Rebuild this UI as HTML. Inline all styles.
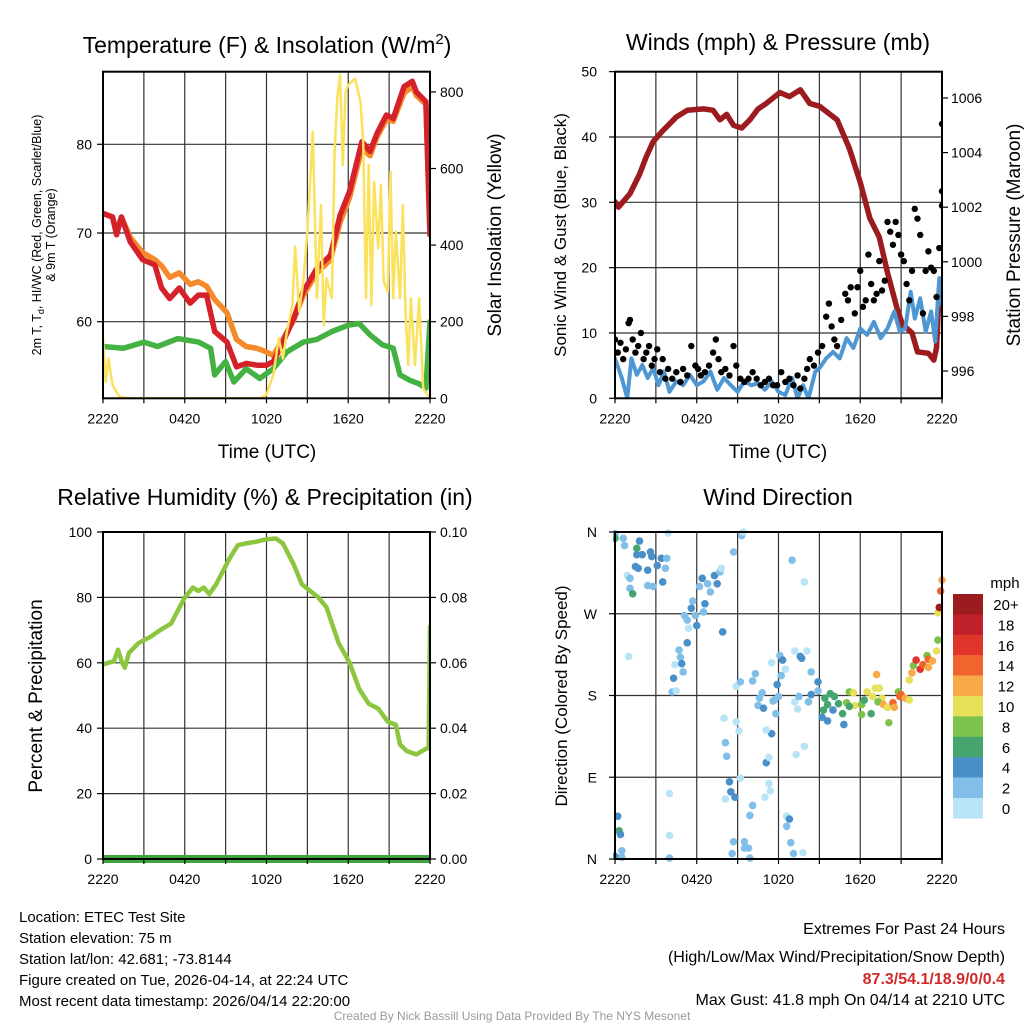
<!DOCTYPE html>
<html><head><meta charset="utf-8"><style>
html,body{margin:0;padding:0;background:#fff;}
svg{display:block;font-family:"Liberation Sans",sans-serif;}
</style></head><body>
<svg id="s" width="1024" height="1024" viewBox="0 0 1024 1024" xmlns="http://www.w3.org/2000/svg">
<defs>
<clipPath id="c1"><rect x="103" y="71.7" width="327" height="326.6"/></clipPath>
<clipPath id="c2"><rect x="615" y="71.7" width="327" height="326.6"/></clipPath>
<clipPath id="c3"><rect x="103" y="532" width="327" height="331"/></clipPath>
<clipPath id="c4"><rect x="613" y="528" width="333" height="335"/></clipPath>
</defs>
<g id="grid"></g>
<g id="marks"></g>
<g id="frames" fill="none" stroke="#000" stroke-width="2">
<rect x="103" y="71.7" width="327" height="326.6"/>
<rect x="615" y="71.7" width="327" height="326.6"/>
<rect x="103" y="532" width="327" height="327"/>
<rect x="615" y="532" width="327" height="327"/>
</g>
<g id="ticks" font-size="14" fill="#000"></g>
<g font-size="23" text-anchor="middle">
<text x="267" y="53">Temperature (F) &amp; Insolation (W/m<tspan dy="-9" font-size="15">2</tspan><tspan dy="9">)</tspan></text>
<text x="778" y="50">Winds (mph) &amp; Pressure (mb)</text>
<text x="265" y="505">Relative Humidity (%) &amp; Precipitation (in)</text>
<text x="778" y="505">Wind Direction</text>
</g>
<g font-size="19" text-anchor="middle">
<text x="267" y="458">Time (UTC)</text>
<text x="778" y="458">Time (UTC)</text>
<text transform="translate(501,235) rotate(-90)">Solar Insolation (Yellow)</text>
<text transform="translate(1020,235) rotate(-90)">Station Pressure (Maroon)</text>
<text transform="translate(42,696) rotate(-90)">Percent &amp; Precipitation</text>
</g>
<g font-size="17" text-anchor="middle">
<text transform="translate(566,235) rotate(-90)">Sonic Wind &amp; Gust (Blue, Black)</text>
<text transform="translate(567,696) rotate(-90)">Direction (Colored By Speed)</text>
</g>
<g font-size="12.5" text-anchor="middle">
<text transform="translate(41,235) rotate(-90)">2m T, T<tspan dy="3" font-size="9">d</tspan><tspan dy="-3">, HI/WC (Red, Green, Scarlet/Blue)</tspan></text>
<text transform="translate(55,235) rotate(-90)">&amp; 9m T (Orange)</text>
</g>
<g id="cbar"></g>
<g font-size="15">
<text x="19" y="922">Location: ETEC Test Site</text>
<text x="19" y="943">Station elevation: 75 m</text>
<text x="19" y="964">Station lat/lon: 42.681; -73.8144</text>
<text x="19" y="985">Figure created on Tue, 2026-04-14, at 22:24 UTC</text>
<text x="19" y="1006">Most recent data timestamp: 2026/04/14 22:20:00</text>
</g>
<g font-size="16" text-anchor="end">
<text x="1005" y="934">Extremes For Past 24 Hours</text>
<text x="1005" y="962">(High/Low/Max Wind/Precipitation/Snow Depth)</text>
<text x="1005" y="984" fill="#d12a2a" font-weight="bold">87.3/54.1/18.9/0/0.4</text>
<text x="1005" y="1005">Max Gust: 41.8 mph On 04/14 at 2210 UTC</text>
</g>
<text x="512" y="1020" font-size="12" fill="#999" text-anchor="middle">Created By Nick Bassill Using Data Provided By The NYS Mesonet</text>
</svg>
<script>
const timeLabels=["2220","0420","1020","1620","2220"];
const tempT=[0,0.7,1,1.35,2,2.9,3.8,4.3,4.9,5.6,6.4,7,7.6,8.2,9.1,9.8,10.5,11.3,12,12.5,13.2,14,14.7,15.7,16.7,17.4,18.1,19,19.6,20.1,20.8,21.3,22.1,22.7,23,23.7,24];
const tempRed=[72.2,71.8,69.8,71.8,69,67,66.4,63.8,62.6,63.8,62.1,63,63,58.9,57.7,54.9,55.3,55.1,55.1,55.5,57.7,60.4,63.4,66,67.5,72,74.7,80.3,79.2,81.2,83.3,82.9,86.5,87.1,85.9,84.8,69.8];
const tempOrange=[72.2,71.8,70.2,71.8,69.5,67.8,67,66.3,65,65.5,64.2,64.5,64,62.5,61,58,57.2,57,56.6,56.2,58,60.2,63,65.5,67,71.2,74,79.5,78.7,80.8,82.8,82.6,85.8,86.5,85.5,84.5,69.8];
const dewT=[0,1.5,3,4,5.5,7,7.9,8.2,9,9.6,10.5,11.5,12.5,13.5,14.7,15.7,16.8,18,18.8,19.6,20.5,21.3,21.8,22.5,23.2,23.7,24];
const dew=[57.2,57,57.7,57.2,58.1,57.7,57,54,55.5,53.2,54.7,53.6,54.7,56.6,57.7,58,58.9,59.6,59.8,58.5,57.4,57,54,53.4,53,52.5,60];
const solarT=[0,0.2,0.4,0.7,1.2,2,11.5,12,12.5,12.9,13.2,13.5,13.9,14.1,14.4,14.7,15,15.4,15.7,16,16.2,16.4,16.8,17,17.2,17.4,17.6,17.8,18,18.5,18.9,19.1,19.3,19.5,19.7,19.9,20.2,20.4,20.6,20.9,21.1,21.3,21.5,21.8,22,22.2,22.4,22.6,22.9,23.2,23.5,23.8,24];
const solar=[157,43,104,35,4,0,0,9,61,157,104,174,243,396,226,305,435,696,261,505,191,313,261,644,787,844,609,800,818,835,774,670,261,609,243,565,391,557,305,278,592,261,435,261,505,226,87,261,87,261,26,9,0];
const presT=[0,0.25,1.1,1.8,2.3,2.8,3.5,4.5,5.3,6.5,7.2,7.7,8.2,8.7,9.3,9.9,10.5,11.1,12.1,12.8,13.6,14.3,15,16.3,17.2,18,18.7,19.4,20,20.7,21.1,21.8,22.2,23,23.4,23.6,23.8,24];
const pres=[1002.2,1002,1002.5,1003.2,1003.85,1004.4,1004.8,1005.3,1005.55,1005.6,1005.55,1005.2,1005.4,1005,1004.9,1005.2,1005.6,1005.8,1006.2,1006.05,1006.3,1005.8,1005.7,1005.2,1004.15,1002.9,1001.6,1000.9,999.6,998.3,997.7,997.4,996.7,996.65,996.4,996.85,999,999.1];
const sonicT=[0,0.5,0.9,1.2,1.6,2,2.4,2.8,3.2,3.6,4,4.5,5,5.5,6,6.5,7,7.5,8,8.5,9,9.5,10,10.5,11,11.5,12,12.5,13,13.4,13.8,14.2,14.7,15,15.5,16,16.5,17,17.5,18,18.5,19,19.5,20,20.5,20.9,21.3,21.7,22,22.4,22.8,23.2,23.5,23.8,24];
const sonic=[6.1,3.1,0,6.1,3.6,5.1,3.1,4.6,2,4.1,1,2.6,2,3.6,2,2.6,4.1,1.3,3.1,2,1,2.6,2,2.3,1.3,2.6,1,0.5,3.1,0,2,0,4.1,4.6,6.1,7.1,6.1,9.2,7.7,10.7,9.7,11.7,9.2,10.7,13.3,10.2,10.7,16.3,12.2,15.3,10.2,13.3,8.7,18.4,14.3];
const gustT=[0,0.2,0.4,0.6,0.8,1.0,1.1,1.3,1.5,1.7,1.9,2.1,2.3,2.5,2.7,2.9,3.1,3.3,3.5,3.7,3.9,4.2,4.5,4.8,5.0,5.3,5.6,5.9,6.1,6.3,6.6,6.9,7.2,7.4,7.6,7.8,8.1,8.4,8.7,8.9,9.2,9.5,9.8,10.1,10.4,10.7,11.0,11.3,11.6,11.9,12.2,12.5,12.8,13.1,13.4,13.6,13.9,14.1,14.3,14.6,14.9,15.2,15.5,15.7,15.9,16.1,16.3,16.6,16.9,17.1,17.3,17.6,17.8,18.0,18.2,18.4,18.6,18.8,19.0,19.2,19.4,19.6,19.8,20.0,20.2,20.4,20.6,20.8,21.0,21.2,21.4,21.6,21.8,22.0,22.2,22.4,22.6,22.8,23.0,23.2,23.4,23.6,23.8,24,24,24];
const gust=[9,7,8.5,6,7.5,11.5,12,9,7,8,10,6,7,8,5,6,7.5,4,6,3,4.5,3,4,2.5,4.5,3.5,8,5,4.5,3.5,4,5,7,9,6,4,4.5,3.5,8,5,3,2.5,3,4,3,2,2.5,3,2,2,4,2.5,3,2,3.5,1.5,3,4.5,6,5,7,8,12.5,14.5,11,9,8,12,16,15,17,13,17,19.5,14,15,22,17.5,15,16,21,16.5,18,27,25.5,23.5,27,25,22,21,17.5,15,19.5,29,27.5,25,13,19.5,22.5,20,19.5,15.5,23,42,31.7,29.5];
const dirT=[0,0,0.6,0.7,1.6,1.8,1.6,2.0,2.6,2.7,3.4,3.8,1.5,1.7,2.4,3.1,3.7,3.5,2.8,2.4,0.9,1.1,1.1,1.3,3.9,1.0,6.4,6.2,6.8,7.3,7.5,7.7,7.8,7.0,6.6,5.7,5.6,5.1,5.3,5.9,6.0,5.4,6.5,7.9,8.7,9.3,9.4,13,13.9,5.3,4.7,4.8,4.4,4.9,5.0,4.3,4.2,4.5,8.0,8.1,8.2,8.4,8.5,8.8,8.1,8.9,9.1,9.2,8.9,9.2,10.3,10.1,10.8,10.6,10.5,10.9,11.5,12.1,12.3,12.5,12.2,11.9,11.7,11.8,11.6,12.0,13.2,13.6,14.1,13.7,13.2,13.5,13.4,11.5,11.1,11.1,11.3,13.3,13.9,11.3,11.4,11.0,10.1,9.9,8.7,9.5,9.5,9.8,9.9,8.6,12.6,12.8,12.6,12.9,13.1,13.8,4.0,4.0,4.0,0.2,0.3,0.4,0.5,0,0.5,14.4,14.9,14.4,14.9,14.2,15.4,15.8,16.1,15.6,15.3,16.0,15.2,15.6,16.4,16.7,16.8,17.0,17.2,17.5,17.6,17.2,18.1,18.1,18.3,18.5,18.8,18.9,19.1,19.4,19.2,19.6,19.3,19.7,20.0,20.1,20.4,20.5,20.8,20.9,21.0,21.3,21.6,21.6,21.9,22.1,22.4,22.6,22.9,23.0,23.3,23.0,23.6,23.7,23.7,23.8,23.9,24,21.8];
const dirDeg=[358,353,353,345,342,350,335,335,338,333,331,331,322,320,318,323,320,305,300,301,312,309,298,292,359,223,309,300,303,312,303,316,320,294,281,284,276,268,263,268,257,254,272,250,338,356,360,329,305,238,230,222,214,215,206,199,184,185,155,128,113,85,74,68,66,151,141,89,190,195,204,196,183,177,169,166,216,224,219,209,202,192,175,160,174,179,229,223,229,221,173,179,165,138,142,106,112,115,124,83,75,68,59,48,19,19,12,12,1,6,47,44,36,18,6,7,72,26,1,47,31,27,9,3,2,206,195,181,185,173,177,182,179,170,164,164,156,152,171,160,148,172,184,183,169,168,170,159,175,184,160,179,188,188,203,177,173,170,167,150,172,167,184,179,181,177,175,197,213,219,209,214,224,220,218,211,229,241,271,277,295,307,205];
const dirSpd=[3,7,3,3,7,5,5,5,5,5,5,3,5,5,5,5,3,5,3,3,1,3,3,7,1,1,5,3,3,5,5,3,1,3,5,3,5,3,3,3,5,1,3,4,3,3,1,3,1,4,3,3,1,4,3,4,3,1,1,3,3,4,4,4,1,1,1,1,1,3,3,3,3,3,3,4,1,3,4,1,3,4,3,3,3,3,1,4,1,4,1,3,1,4,1,4,1,1,1,1,1,1,3,3,3,3,3,3,3,3,1,4,3,3,3,1,1,1,3,5,7,5,3,5,3,3,5,5,3,3,6.5,6.5,6.5,6.5,7,5,5,5,7,7,5,8.5,8.5,10,10,7,8.5,8.5,7,10,7,10,10,10,12,10,8.5,12,10,8.5,14,12,8.5,14,15,12,10,10,8.5,17,17,14,8.5,14,12,12,10,8.5,10,20,15,12,12];
const rhT=[0,0.8,1.1,1.4,1.6,1.9,2.6,3.5,4.2,5.0,5.5,6.0,6.6,7.0,7.4,7.8,8.3,8.8,9.3,9.9,10.5,11.2,12.0,12.7,13.2,14.0,14.6,15.2,15.8,16.4,17.3,18.1,18.8,19.5,20.2,20.9,21.5,21.8,22.3,23.0,23.6,23.9,24];
const rh=[59.5,60.5,64,60,58.5,63,66,68,70,72,76,80,83,82,83,81,84,88,92,96,96.5,97,97.8,98,96.5,90,84,82,80,77,66,60,52,47.5,46,42,41,35,33,32,33.5,34,71];
const precipT=[0,24];
const precip=[0,0];
const cbarLabels=["20+","18","16","14","12","10","8","6","4","2","0"];
const cbarColors=["#9b1b1e","#c0202a","#e0352b","#f0652d","#f9a948","#e6e05a","#7dc24b","#46a56f","#4a90c8","#82bfe8","#b8e4f8"];
const dirLabels=["N","E","S","W","N"];

const NS="http://www.w3.org/2000/svg";
const xL=t=>103+t*327/24, xR=t=>615+t*327/24;
const yT=v=>144.3+(80-v)*8.87, yS=w=>398.3-w*0.383;
const yW=v=>398.3-v*6.533, yP=p=>98+(1006-p)*27.3;
const yRH=v=>859-v*3.27, yPr=v=>859-v*3270, yD=d=>859-d*327/360;
const grid=document.getElementById('grid'), marks=document.getElementById('marks'), ticks=document.getElementById('ticks'), cbar=document.getElementById('cbar');
function el(tag,parent){const e=document.createElementNS(NS,tag);parent.appendChild(e);return e;}
function line(p,x1,y1,x2,y2,c,w){const e=el('line',p);e.setAttribute('x1',x1);e.setAttribute('y1',y1);e.setAttribute('x2',x2);e.setAttribute('y2',y2);e.setAttribute('stroke',c);e.setAttribute('stroke-width',w);return e;}
function txt(p,x,y,s,anchor){const e=el('text',p);e.setAttribute('x',x);e.setAttribute('y',y);e.setAttribute('text-anchor',anchor);e.textContent=s;return e;}
function poly(xs,ys,fx,fy,c,w,clip){const e=el('polyline',marks);e.setAttribute('points',xs.map((t,i)=>fx(t).toFixed(1)+','+fy(ys[i]).toFixed(1)).join(' '));e.setAttribute('fill','none');e.setAttribute('stroke',c);e.setAttribute('stroke-width',w);e.setAttribute('stroke-linejoin','round');e.setAttribute('stroke-linecap','round');e.setAttribute('clip-path','url(#'+clip+')');return e;}
function spdColor(s){const i=Math.min(10,Math.floor(s/2));return cbarColors[10-i];}

[[xL,71.7,398.3],[xR,71.7,398.3],[xL,532,859],[xR,532,859]].forEach((g,pi)=>{
  for(let h=3;h<24;h+=3){const gl=line(grid,g[0](h),g[1],g[0](h),g[2],'#333',1.2);

}
  for(let h=0;h<=24;h+=3){line(ticks,g[0](h),g[2],g[0](h),g[2]+5,'#000',1.2);}
  timeLabels.forEach((s,i)=>{const t=txt(ticks,g[0](i*6),g[2]+25,s,'middle');

});
});
[60,70,80].forEach(v=>{line(grid,103,yT(v),430,yT(v),'#333',1.2);line(ticks,97,yT(v),103,yT(v),'#000',1.2);const t=txt(ticks,92,yT(v)+5,String(v),'end');

});
[0,200,400,600,800].forEach(v=>{line(ticks,430,yS(v),436,yS(v),'#000',1.2);const t=txt(ticks,440,yS(v)+5,String(v),'start');

});
[0,10,20,30,40,50].forEach(v=>{if(v>0&&v<50)line(grid,615,yW(v),942,yW(v),'#333',1.2);line(ticks,609,yW(v),615,yW(v),'#000',1.2);const t=txt(ticks,597,yW(v)+5,String(v),'end');

});
[996,998,1000,1002,1004,1006].forEach(v=>{line(ticks,942,yP(v),948,yP(v),'#000',1.2);const t=txt(ticks,951,yP(v)+5,String(v),'start');

});
[0,20,40,60,80,100].forEach(v=>{if(v>0&&v<100)line(grid,103,yRH(v),430,yRH(v),'#333',1.2);line(ticks,97,yRH(v),103,yRH(v),'#000',1.2);const t=txt(ticks,92,yRH(v)+5,String(v),'end');

});
[0,0.02,0.04,0.06,0.08,0.10].forEach(v=>{line(ticks,430,yPr(v),436,yPr(v),'#000',1.2);const t=txt(ticks,440,yPr(v)+5,v.toFixed(2),'start');

});
dirLabels.forEach((s,i)=>{const d=i*90;if(i>0&&i<4)line(grid,615,yD(d),942,yD(d),'#333',1.2);line(ticks,609,yD(d),615,yD(d),'#000',1.2);const t=txt(ticks,597,yD(d)+5,s,'end');

});

let e;
e=poly(dewT,dew,xL,yT,'#44b143',5.5,'c1');


e=poly(tempT,tempOrange,xL,yT,'#f58a2a',5.5,'c1');


e=poly(tempT,tempRed,xL,yT,'#d4212a',5.5,'c1');


e=poly(solarT,solar,xL,yS,'#fae25c',2.5,'c1');


e=poly(presT,pres,xR,yP,'#9b1b1e',5.5,'c2');


e=poly(sonicT,sonic,xR,yW,'#4f97d2',4,'c2');


gustT.forEach((t,i)=>{const c=el('circle',marks);c.setAttribute('cx',xR(t));c.setAttribute('cy',yW(gust[i]));c.setAttribute('r',3.2);c.setAttribute('fill','#000');c.setAttribute('clip-path','url(#c2)');

});
e=poly(rhT,rh,xL,yRH,'#8cc63f',4.5,'c3');


e=poly(precipT,precip,xL,yPr,'#3fa53f',8,'c3');


dirT.forEach((t,i)=>{const c=el('circle',marks);c.setAttribute('cx',xR(t));c.setAttribute('cy',yD(dirDeg[i]));c.setAttribute('r',3.8);c.setAttribute('fill',spdColor(dirSpd[i]));c.setAttribute('clip-path','url(#c4)');

});
const cbT=txt(cbar,1005,588,'mph','middle');cbT.setAttribute('font-size','15');


cbarColors.forEach((c,i)=>{const r=el('rect',cbar);r.setAttribute('x',953);r.setAttribute('y',594+i*20.4);r.setAttribute('width',30);r.setAttribute('height',20.6);r.setAttribute('fill',c);


const t=txt(cbar,1006,594+i*20.4+16,cbarLabels[i],'middle');t.setAttribute('font-size','15');

});
</script>
</body></html>
